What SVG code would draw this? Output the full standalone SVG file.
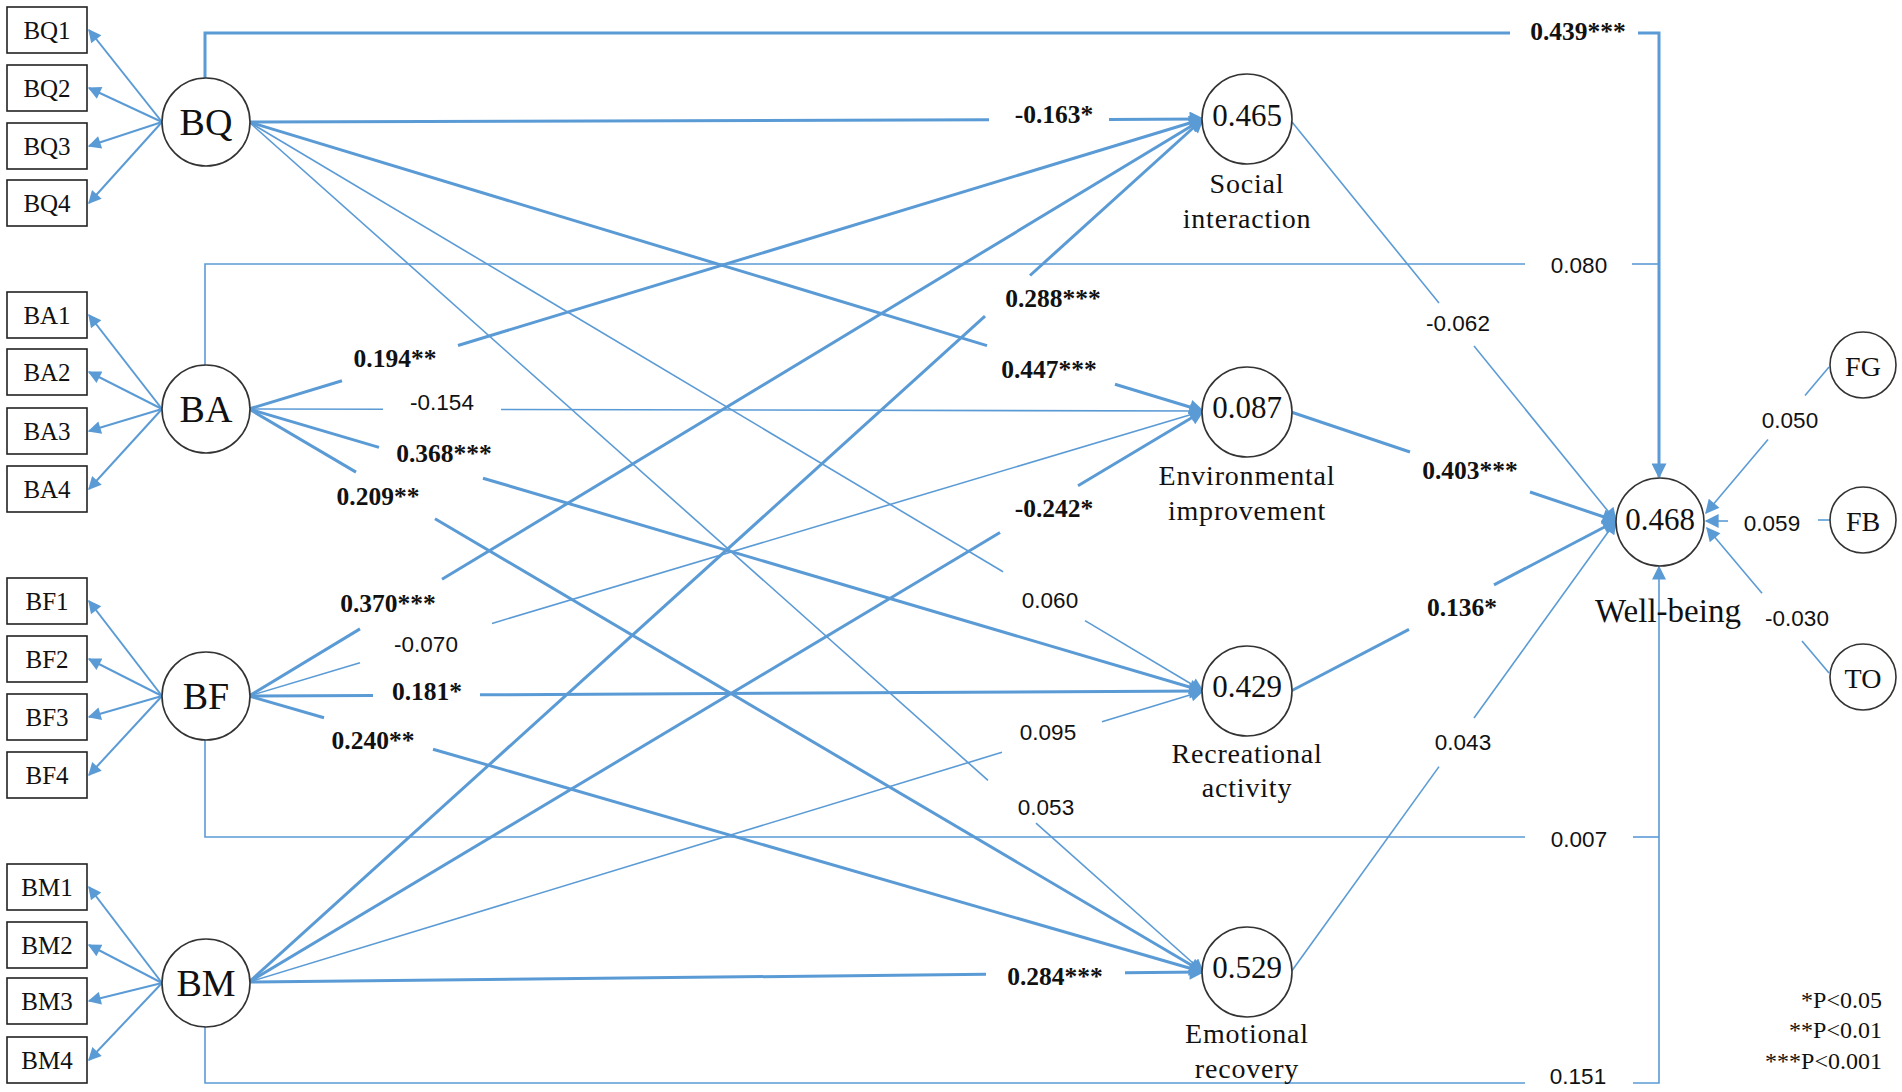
<svg xmlns="http://www.w3.org/2000/svg" width="1902" height="1092" viewBox="0 0 1902 1092">
<defs>
<style>
.box{fill:#fff;stroke:#222;stroke-width:1.6}
.cir{fill:#fff;stroke:#333;stroke-width:1.6}
.bt{font-family:"Liberation Serif","Times New Roman",serif;font-size:25px;fill:#111;text-anchor:middle}
.ct{font-family:"Liberation Serif","Times New Roman",serif;font-size:38px;fill:#111;text-anchor:middle}
.mt{font-family:"Liberation Serif","Times New Roman",serif;font-size:31px;fill:#111;text-anchor:middle}
.nt{font-family:"Liberation Serif","Times New Roman",serif;font-size:28px;fill:#111;text-anchor:middle;letter-spacing:0.8px}
.wt{font-family:"Liberation Serif","Times New Roman",serif;font-size:33px;fill:#111;text-anchor:middle}
.ft{font-family:"Liberation Serif","Times New Roman",serif;font-size:28px;fill:#111;text-anchor:middle}
.lb{font-family:"Liberation Serif","Times New Roman",serif;font-size:25.5px;font-weight:bold;fill:#111;text-anchor:middle}
.ln{font-family:"Liberation Sans",Arial,sans-serif;font-size:22.5px;fill:#111;text-anchor:middle}
.lg{font-family:"Liberation Serif","Times New Roman",serif;font-size:24px;fill:#111;text-anchor:end}
.k{fill:none;stroke:#5B9BD5;stroke-width:3}
.t{fill:none;stroke:#5B9BD5;stroke-width:1.6}
.i{fill:none;stroke:#5B9BD5;stroke-width:2}
</style>
<marker id="ab" viewBox="0 0 10 10" refX="9" refY="5" markerWidth="20" markerHeight="15" orient="auto" markerUnits="userSpaceOnUse"><path d="M0,0 L10,5 L0,10 z" fill="#5B9BD5"/></marker>
<marker id="am" viewBox="0 0 10 10" refX="9" refY="5" markerWidth="17" markerHeight="14" orient="auto" markerUnits="userSpaceOnUse"><path d="M0,0 L10,5 L0,10 z" fill="#5B9BD5"/></marker>
<marker id="as" viewBox="0 0 10 10" refX="9" refY="5" markerWidth="16" markerHeight="13" orient="auto" markerUnits="userSpaceOnUse"><path d="M0,0 L10,5 L0,10 z" fill="#5B9BD5"/></marker>
</defs>
<rect width="1902" height="1092" fill="#fff"/>

<g id="connectors">
<!-- indicator arrows -->
<g class="i" marker-end="url(#as)">
<path d="M162,122 L89,30"/><path d="M162,122 L89,88"/><path d="M162,122 L89,146"/><path d="M162,122 L89,203"/>
<path d="M162,409 L89,315"/><path d="M162,409 L89,372"/><path d="M162,409 L89,431"/><path d="M162,409 L89,489"/>
<path d="M162,696 L89,601"/><path d="M162,696 L89,659"/><path d="M162,696 L89,717"/><path d="M162,696 L89,775"/>
<path d="M162,983 L89,887"/><path d="M162,983 L89,945"/><path d="M162,983 L89,1001"/><path d="M162,983 L89,1060"/>
</g>
<!-- BQ -->
<path class="k" d="M249,122 L989,119.7"/><path class="k" d="M1109,119.4 L1203,119" marker-end="url(#ab)"/>
<path class="k" d="M249,122 L987,345.6"/><path class="k" d="M1115,384.3 L1203,411" marker-end="url(#ab)"/>
<path class="t" d="M249,122 L1003,571.7"/><path class="t" d="M1085,620.6 L1203,691" marker-end="url(#am)"/>
<path class="t" d="M249,122 L988,780.4"/><path class="t" d="M1036,823.2 L1203,972" marker-end="url(#am)"/>
<!-- BA -->
<path class="k" d="M249,409 L342,380.7"/><path class="k" d="M458,345.5 L1203,119" marker-end="url(#ab)"/>
<path class="t" d="M249,409 L383,409.3"/><path class="t" d="M501,409.5 L1203,411" marker-end="url(#am)"/>
<path class="k" d="M249,409 L379,447.4"/><path class="k" d="M483,478.2 L1203,691" marker-end="url(#ab)"/>
<path class="k" d="M249,409 L356,472.1"/><path class="k" d="M435,518.7 L1203,972" marker-end="url(#ab)"/>
<!-- BF -->
<path class="k" d="M249,696 L360,628.9"/><path class="k" d="M442,579.3 L1203,119" marker-end="url(#ab)"/>
<path class="t" d="M249,696 L360,662.8"/><path class="t" d="M492,623.4 L1203,411" marker-end="url(#am)"/>
<path class="k" d="M249,696 L373,695.4"/><path class="k" d="M480,694.8 L1203,691" marker-end="url(#ab)"/>
<path class="k" d="M249,696 L324,717.7"/><path class="k" d="M433,749.2 L1203,972" marker-end="url(#ab)"/>
<!-- BM -->
<path class="k" d="M249,982 L985,316.2"/><path class="k" d="M1030,275.5 L1203,119" marker-end="url(#ab)"/>
<path class="k" d="M249,982 L1000,532.5"/><path class="k" d="M1078,485.8 L1203,411" marker-end="url(#ab)"/>
<path class="t" d="M249,982 L1002,752.3"/><path class="t" d="M1102,721.8 L1203,691" marker-end="url(#am)"/>
<path class="k" d="M249,982 L986,974.3"/><path class="k" d="M1125,972.8 L1203,972" marker-end="url(#ab)"/>
<!-- direct paths to well-being -->
<path class="k" d="M205,78 V33 H1510"/><path class="k" d="M1638,33 H1659 V477" marker-end="url(#ab)"/>
<path class="t" d="M205,365 V264 H1525"/><path class="t" d="M1632,264 H1659"/>
<path class="t" d="M205,740 V837 H1525"/><path class="t" d="M1633,837 H1659"/>
<path class="t" d="M205,1027 V1083 H1525"/><path class="t" d="M1633,1083 H1659 V567" marker-end="url(#am)"/>
<!-- mediators to well-being -->
<path class="t" d="M1292,122 L1439,303"/><path class="t" d="M1474,346 L1616,521" marker-end="url(#am)"/>
<path class="k" d="M1291,412 L1410,452"/><path class="k" d="M1530,492 L1616,521" marker-end="url(#ab)"/>
<path class="k" d="M1291,691 L1409,629.3"/><path class="k" d="M1494,584.8 L1616,521" marker-end="url(#ab)"/>
<path class="t" d="M1291,972 L1439,766.6"/><path class="t" d="M1474,718 L1616,521" marker-end="url(#am)"/>
<!-- controls -->
<path class="t" d="M1829,367 L1805,395.5"/><path class="t" d="M1768,439.4 L1706,513" marker-end="url(#am)"/>
<path class="t" d="M1830,520 L1818,520"/><path class="t" d="M1728,521 L1706,521" marker-end="url(#am)"/>
<path class="t" d="M1829,673 L1802,641"/><path class="t" d="M1762,593.3 L1707,528" marker-end="url(#am)"/>
</g>

<g id="edge-labels">
<text class="lb" x="1054" y="123">-0.163*</text>
<text class="lb" x="1049" y="378">0.447***</text>
<text class="ln" x="1050" y="608">0.060</text>
<text class="ln" x="1046" y="815">0.053</text>
<text class="lb" x="395" y="367">0.194**</text>
<text class="ln" x="442" y="410">-0.154</text>
<text class="lb" x="444" y="462">0.368***</text>
<text class="lb" x="378" y="505">0.209**</text>
<text class="lb" x="388" y="612">0.370***</text>
<text class="ln" x="426" y="652">-0.070</text>
<text class="lb" x="427" y="700">0.181*</text>
<text class="lb" x="373" y="749">0.240**</text>
<text class="lb" x="1053" y="307">0.288***</text>
<text class="lb" x="1054" y="517">-0.242*</text>
<text class="ln" x="1048" y="740">0.095</text>
<text class="lb" x="1055" y="985">0.284***</text>
<text class="lb" x="1578" y="40">0.439***</text>
<text class="ln" x="1579" y="273">0.080</text>
<text class="ln" x="1579" y="847">0.007</text>
<text class="ln" x="1578" y="1084">0.151</text>
<text class="ln" x="1458" y="331">-0.062</text>
<text class="lb" x="1470" y="479">0.403***</text>
<text class="lb" x="1462" y="616">0.136*</text>
<text class="ln" x="1463" y="750">0.043</text>
<text class="ln" x="1790" y="428">0.050</text>
<text class="ln" x="1772" y="531">0.059</text>
<text class="ln" x="1797" y="626">-0.030</text>
</g>

<g id="BQ-items">
<g id="BQ1"><rect class="box" x="7" y="7" width="80" height="46"/><text class="bt" x="47" y="39">BQ1</text></g>
<g id="BQ2"><rect class="box" x="7" y="65" width="80" height="46"/><text class="bt" x="47" y="97">BQ2</text></g>
<g id="BQ3"><rect class="box" x="7" y="123" width="80" height="46"/><text class="bt" x="47" y="155">BQ3</text></g>
<g id="BQ4"><rect class="box" x="7" y="180" width="80" height="46"/><text class="bt" x="47" y="212">BQ4</text></g>
</g>
<g id="BA-items">
<g id="BA1"><rect class="box" x="7" y="292" width="80" height="46"/><text class="bt" x="47" y="324">BA1</text></g>
<g id="BA2"><rect class="box" x="7" y="349" width="80" height="46"/><text class="bt" x="47" y="381">BA2</text></g>
<g id="BA3"><rect class="box" x="7" y="408" width="80" height="46"/><text class="bt" x="47" y="440">BA3</text></g>
<g id="BA4"><rect class="box" x="7" y="466" width="80" height="46"/><text class="bt" x="47" y="498">BA4</text></g>
</g>
<g id="BF-items">
<g id="BF1"><rect class="box" x="7" y="578" width="80" height="46"/><text class="bt" x="47" y="610">BF1</text></g>
<g id="BF2"><rect class="box" x="7" y="636" width="80" height="46"/><text class="bt" x="47" y="668">BF2</text></g>
<g id="BF3"><rect class="box" x="7" y="694" width="80" height="46"/><text class="bt" x="47" y="726">BF3</text></g>
<g id="BF4"><rect class="box" x="7" y="752" width="80" height="46"/><text class="bt" x="47" y="784">BF4</text></g>
</g>
<g id="BM-items">
<g id="BM1"><rect class="box" x="7" y="864" width="80" height="46"/><text class="bt" x="47" y="896">BM1</text></g>
<g id="BM2"><rect class="box" x="7" y="922" width="80" height="46"/><text class="bt" x="47" y="954">BM2</text></g>
<g id="BM3"><rect class="box" x="7" y="978" width="80" height="46"/><text class="bt" x="47" y="1010">BM3</text></g>
<g id="BM4"><rect class="box" x="7" y="1037" width="80" height="46"/><text class="bt" x="47" y="1069">BM4</text></g>
</g>

<g id="BQ"><circle class="cir" cx="206" cy="122" r="44"/><text class="ct" x="206" y="135">BQ</text></g>
<g id="BA"><circle class="cir" cx="206" cy="409" r="44"/><text class="ct" x="206" y="422">BA</text></g>
<g id="BF"><circle class="cir" cx="206" cy="696" r="44"/><text class="ct" x="206" y="709">BF</text></g>
<g id="BM"><circle class="cir" cx="206" cy="983" r="44"/><text class="ct" x="206" y="996">BM</text></g>

<g id="social-interaction"><circle class="cir" cx="1247" cy="119" r="45"/><text class="mt" x="1247" y="126">0.465</text><text class="nt" x="1247" y="193">Social</text><text class="nt" x="1247" y="228">interaction</text></g>
<g id="environmental-improvement"><circle class="cir" cx="1247" cy="412" r="45"/><text class="mt" x="1247" y="418">0.087</text><text class="nt" x="1247" y="485">Environmental</text><text class="nt" x="1247" y="520">improvement</text></g>
<g id="recreational-activity"><circle class="cir" cx="1247" cy="691" r="45"/><text class="mt" x="1247" y="697">0.429</text><text class="nt" x="1247" y="763">Recreational</text><text class="nt" x="1247" y="797">activity</text></g>
<g id="emotional-recovery"><circle class="cir" cx="1247" cy="972" r="45"/><text class="mt" x="1247" y="978">0.529</text><text class="nt" x="1247" y="1043">Emotional</text><text class="nt" x="1247" y="1078">recovery</text></g>

<g id="well-being"><circle class="cir" cx="1660" cy="522" r="44"/><text class="mt" x="1660" y="530">0.468</text><text class="wt" x="1668" y="622">Well-being</text></g>
<g id="FG"><circle class="cir" cx="1863" cy="365" r="33"/><text class="ft" x="1863" y="376">FG</text></g>
<g id="FB"><circle class="cir" cx="1863" cy="520" r="33"/><text class="ft" x="1863" y="531">FB</text></g>
<g id="TO"><circle class="cir" cx="1863" cy="677" r="33"/><text class="ft" x="1863" y="688">TO</text></g>

<g id="legend">
<text class="lg" x="1882" y="1008">*P&lt;0.05</text>
<text class="lg" x="1882" y="1038">**P&lt;0.01</text>
<text class="lg" x="1882" y="1069">***P&lt;0.001</text>
</g>
</svg>
